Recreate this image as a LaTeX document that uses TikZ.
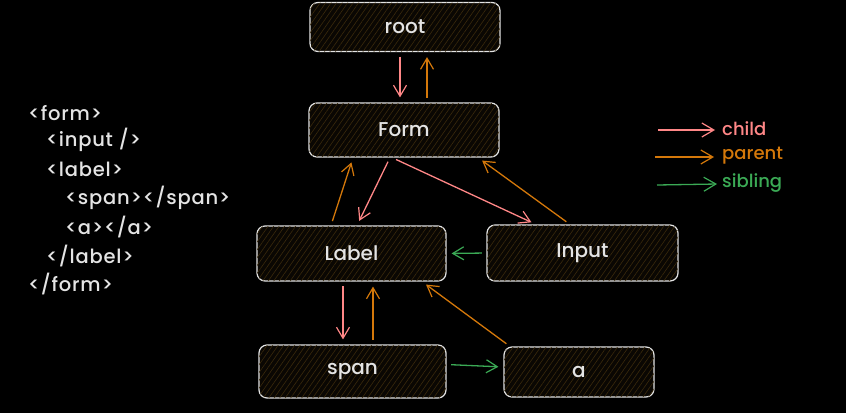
\documentclass[tikz,border=0pt]{standalone}
\usepackage{fontspec}
\setmainfont{Poppins Medium}
\newfontfamily\codefont[LetterSpace=4]{Poppins Medium}
\usetikzlibrary{arrows.meta,patterns.meta}
\definecolor{bg}{HTML}{000000}
\definecolor{ink}{HTML}{E4E4E4}
\definecolor{boxfill}{HTML}{0A0703}
\definecolor{hatch}{HTML}{3A2A0C}
\definecolor{childc}{HTML}{FF8787}
\definecolor{parentc}{HTML}{D4780A}
\definecolor{siblingc}{HTML}{3BAA55}
\tikzset{
  box/.style={draw=ink, line width=1.2pt, rounded corners=8pt, fill=boxfill,
    postaction={pattern={Lines[angle=55,distance=4.5pt,line width=0.6pt]}, pattern color=hatch},
    text=ink, font=\fontsize{20}{22}\selectfont, inner sep=0pt},
  arr/.style={line width=1.3pt, -{Straight Barb[length=11pt,width=13pt,line width=1.2pt]},
    shorten <=4.5pt, shorten >=5pt},
  childa/.style={arr, draw=childc},
  parenta/.style={arr, draw=parentc},
  siblinga/.style={arr, draw=siblingc},
  code/.style={anchor=west, text=ink, font=\codefont\fontsize{19.5}{21}\selectfont, inner sep=0pt},
  legtext/.style={anchor=west, font=\fontsize{18}{19}\selectfont, inner sep=0pt},
  legarr/.style={line width=1.3pt, -{Straight Barb[length=12pt,width=14pt,line width=1.2pt]}}
}
\begin{document}
\begin{tikzpicture}[x=1pt,y=-1pt]
\fill[bg] (0,0) rectangle (846,413);
\useasboundingbox (0,0) rectangle (846,413);

% boxes
\node[box, minimum width=190pt, minimum height=49pt] (root) at (405,27) {root};
\node[box, minimum width=190pt, minimum height=54pt] (form) at (404,130) {Form};
\node[box, minimum width=189pt, minimum height=55pt] (label) at (351.5,253.5) {Label};
\node[box, minimum width=191pt, minimum height=56pt] (input) at (582.5,253) {Input};
\node[box, minimum width=187pt, minimum height=53pt] (span) at (352.5,371.5) {span};
\node[box, minimum width=150pt, minimum height=50pt] (a) at (579,372) {a};

% root <-> Form
\draw[childa] ([xshift=-5pt]root.south) -- ([xshift=-4pt]form.north);
\draw[parenta] ([xshift=23pt]form.north) -- ([xshift=22pt]root.south);

% Form -> children
\draw[childa] ([xshift=-14pt]form.south) -- ([xshift=5.5pt]label.north);
\draw[childa] ([xshift=-12pt]form.south) -- ([xshift=-46.5pt]input.north);
\draw[parenta] ([xshift=-20.5pt]label.north) -- ([xshift=-51pt]form.south);
\draw[parenta] ([xshift=-12.5pt]input.north) -- ([xshift=74pt]form.south);

% sibling Input -> Label
\draw[siblinga] (input.west) -- (label.east);

% Label <-> span, a
\draw[childa] ([xshift=-8.5pt]label.south) -- ([xshift=-9.5pt]span.north);
\draw[parenta] ([xshift=20.5pt]span.north) -- ([xshift=21.5pt]label.south);
\draw[siblinga] ([yshift=7pt]span.east) -- ([yshift=5pt]a.west);
\draw[parenta] ([xshift=-69pt]a.north) -- ([xshift=70.5pt]label.south);

% legend
\coordinate (c1) at (658,130); \coordinate (c2) at (715,130);
\coordinate (p1) at (655,157); \coordinate (p2) at (714,157);
\coordinate (s1) at (657,185); \coordinate (s2) at (717,184);
\draw[legarr, draw=childc] (c1) -- (c2);
\draw[legarr, draw=parentc] (p1) -- (p2);
\draw[legarr, draw=siblingc] (s1) -- (s2);
\node[legtext, text=childc] (lc) at (722,129) {child};
\node[legtext, text=parentc] (lp) at (722,156) {parent};
\node[legtext, text=siblingc] (ls) at (722,183) {sibling};

% code
\node[code] (l1) at (28,113) {<form>};
\node[code] (l2) at (46,140) {<input />};
\node[code] (l3) at (46,169) {<label>};
\node[code] (l4) at (65,198) {<span></span>};
\node[code] (l5) at (65,227) {<a></a>};
\node[code] (l6) at (46,256) {</label>};
\node[code] (l7) at (28,284) {</form>};
\end{tikzpicture}
\end{document}
